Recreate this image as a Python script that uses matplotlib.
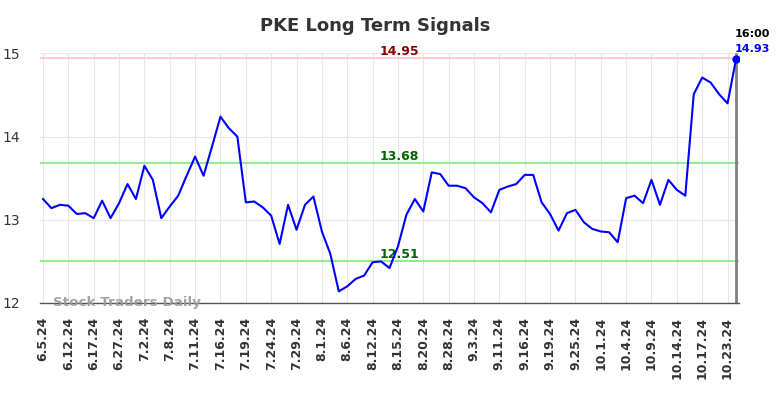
import matplotlib.pyplot as plt
import numpy as np

# 数据
dates = ['6.5.24', '6.12.24', '6.17.24', '6.27.24', '7.2.24', '7.8.24', '7.11.24',
         '7.16.24', '7.19.24', '7.24.24', '7.29.24', '8.1.24', '8.6.24', '8.12.24',
         '8.15.24', '8.20.24', '8.28.24', '9.3.24', '9.11.24', '9.16.24', '9.19.24',
         '9.25.24', '10.1.24', '10.4.24', '10.9.24', '10.14.24', '10.17.24', '10.23.24']
prices = [13.25, 13.14, 13.18, 13.17, 13.07, 13.08, 13.02, 13.23, 13.02, 13.20,
          13.43, 13.25, 13.65, 13.48, 13.02, 13.16, 13.29, 13.53, 13.76, 13.53,
          13.88, 14.24, 14.10, 14.00, 13.21, 13.22, 13.15, 13.05, 12.71, 13.18,
          12.88, 13.18, 13.28, 12.86, 12.59, 12.14, 12.20, 12.29, 12.33, 12.49,
          12.50, 12.42, 12.68, 13.06, 13.25, 13.10, 13.57, 13.55, 13.41, 13.41,
          13.38, 13.27, 13.20, 13.09, 13.36, 13.40, 13.43, 13.54, 13.54, 13.21,
          13.07, 12.87, 13.08, 13.12, 12.97, 12.89, 12.86, 12.85, 12.73, 13.26,
          13.29, 13.20, 13.48, 13.18, 13.48, 13.36, 13.29, 14.51, 14.71, 14.65,
          14.51, 14.40, 14.93]
resistance = 14.95
support_hi = 13.68
support_lo = 12.51
last_time = '16:00'

x = np.arange(len(prices))
tick_pos = x[::3]

fig = plt.figure(figsize=(7.84, 3.98), dpi=100)
ax = fig.add_axes([0.0505, 0.2387, 0.8926, 0.6281])

# 水平信号线
ax.axhline(resistance, color='#ffcccc', linewidth=1.5, zorder=1)
ax.axhline(support_hi, color='#90ee90', linewidth=1.5, zorder=1)
ax.axhline(support_lo, color='#90ee90', linewidth=1.5, zorder=1)

mid = 42.2
ax.text(mid, resistance, f'{resistance:.2f}', color='#8b0000', fontsize=9,
        fontweight='bold', ha='center', va='bottom')
ax.text(mid, support_hi, f'{support_hi:.2f}', color='#006400', fontsize=9,
        fontweight='bold', ha='center', va='bottom')
ax.text(mid, support_lo, f'{support_lo:.2f}', color='#006400', fontsize=9,
        fontweight='bold', ha='center', va='bottom')

# 价格线
ax.plot(x, prices, color='#0000ff', linewidth=1.5, zorder=3)
ax.vlines(x[-1], 12, 15, color='#808080', linewidth=2, zorder=2)
ax.plot(x[-1], prices[-1], marker='o', markersize=5, color='#0000ff', zorder=4)

ax.text(x[-1] - 0.1, prices[-1] + 0.06, f'{prices[-1]:.2f}', color='#0000ff', fontsize=8,
        fontweight='bold', ha='left', va='bottom', clip_on=False)
ax.text(x[-1] - 0.1, prices[-1] + 0.24, last_time, color='black', fontsize=8,
        fontweight='bold', ha='left', va='bottom', clip_on=False)

# 水印
ax.text(1.2, 12.0, 'Stock Traders Daily', color='#999999', fontsize=9.7,
        fontweight='bold', ha='left', va='center', alpha=0.9, zorder=5)

# 坐标轴
ax.set_xlim(-0.4, len(prices) - 0.6)
ax.set_ylim(12, 15.005)
ax.set_yticks([12, 13, 14, 15])
ax.set_xticks(tick_pos)
ax.set_xticklabels(dates, rotation=90, fontsize=9, fontweight='bold', color='#333333')
ax.tick_params(axis='y', labelsize=10, colors='#333333', length=0, pad=14)
ax.tick_params(axis='x', length=0, pad=10)
ax.grid(True, color='#e6e6e6', linewidth=0.8, zorder=0)
ax.set_axisbelow(True)
for s in ['top', 'right', 'left']:
    ax.spines[s].set_visible(False)
ax.spines['bottom'].set_color('#555555')
ax.spines['bottom'].set_linewidth(1)

fig.text(0.478, 0.935, 'PKE Long Term Signals', fontsize=13, fontweight='bold',
         color='#333333', ha='center', va='center')

fig.savefig('out.png', dpi=100, facecolor='white')
